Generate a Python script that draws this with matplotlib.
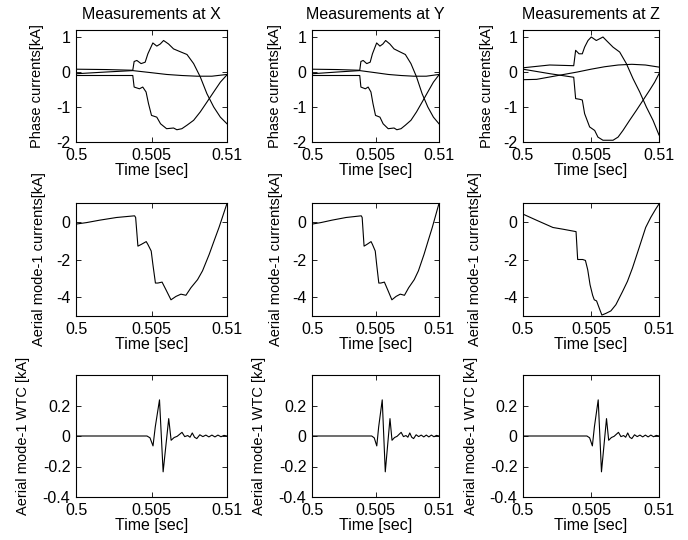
import matplotlib
matplotlib.use("Agg")
import matplotlib.pyplot as plt

plt.rcParams['font.family'] = ['Liberation Sans', 'DejaVu Sans']

# ---------------- data (time in seconds) ----------------
# Phase currents at X (kA)
tX_a = [0.5, 0.5020, 0.50376, 0.50385, 0.50403, 0.50431, 0.50458, 0.50476, 0.50509, 0.50535,
        0.50558, 0.50580, 0.50613, 0.50646, 0.50690, 0.50735, 0.50779, 0.50823, 0.50867, 0.50912,
        0.50956, 0.51]
iX_a = [0.08, 0.07, 0.05, 0.30, 0.33, 0.24, 0.28, 0.52, 0.83, 0.74,
        0.80, 0.90, 0.80, 0.66, 0.58, 0.50, 0.24, -0.14, -0.62, -1.00,
        -1.29, -1.48]
tX_b = [0.5, 0.5020, 0.50376, 0.50385, 0.50420, 0.50442, 0.50464, 0.50480, 0.50500, 0.50535,
        0.50560, 0.50600, 0.50646, 0.50668, 0.50701, 0.50735, 0.50779, 0.50823, 0.50867, 0.50912,
        0.50956, 0.51]
iX_b = [-0.10, -0.10, -0.10, -0.43, -0.48, -0.43, -0.57, -0.90, -1.24, -1.29,
        -1.48, -1.62, -1.60, -1.65, -1.62, -1.52, -1.38, -1.14, -0.86, -0.57,
        -0.29, -0.08]
tX_c = [0.5, 0.5020, 0.50376, 0.5050, 0.5060, 0.5070, 0.5080, 0.5090, 0.51]
iX_c = [-0.05, 0.0, 0.04, -0.02, -0.07, -0.10, -0.12, -0.12, -0.07]

# Phase currents at Y (kA) - same waveform shape as X
tY_a, iY_a = tX_a, iX_a
tY_b, iY_b = tX_b, iX_b
tY_c, iY_c = tX_c, iX_c

# Phase currents at Z (kA)
tZ_a = [0.5, 0.50196, 0.50373, 0.50387, 0.50412, 0.50436, 0.50453, 0.50478, 0.50502, 0.50539,
        0.50564, 0.50588, 0.50613, 0.50662, 0.50711, 0.50760, 0.50809, 0.50858, 0.50907, 0.50956,
        0.51]
iZ_a = [0.12, 0.20, 0.18, 0.62, 0.52, 0.52, 0.71, 0.90, 1.00, 0.90,
        0.95, 1.00, 0.90, 0.71, 0.57, 0.24, -0.19, -0.57, -1.00, -1.38,
        -1.80]
tZ_b = [0.5, 0.5020, 0.50373, 0.50387, 0.50417, 0.50436, 0.50453, 0.50490, 0.50527, 0.50551,
        0.50588, 0.50613, 0.50662, 0.50699, 0.50735, 0.50784, 0.50833, 0.50882, 0.50931, 0.50968,
        0.51]
iZ_b = [0.08, -0.05, -0.15, -0.76, -0.78, -0.80, -1.19, -1.57, -1.67, -1.86,
        -1.95, -1.95, -1.95, -1.86, -1.67, -1.38, -1.10, -0.81, -0.52, -0.29,
        -0.05]
tZ_c = [0.5, 0.5010, 0.5020, 0.5030, 0.5040, 0.5050, 0.5060, 0.5070, 0.5080, 0.5090, 0.51]
iZ_c = [-0.22, -0.21, -0.14, -0.07, 0.0, 0.08, 0.15, 0.20, 0.22, 0.20, 0.14]

# Aerial mode-1 currents at X (kA)
tX_m = [0.5, 0.5007, 0.50158, 0.50268, 0.50388, 0.50395, 0.5041, 0.50432, 0.50465, 0.50476,
        0.50498, 0.50509, 0.50526, 0.50542, 0.5057, 0.50596, 0.50629, 0.50662, 0.50695, 0.50728,
        0.50761, 0.50805, 0.50838, 0.50882, 0.50914, 0.50947, 0.50969, 0.51]
iX_m = [-0.12, -0.04, 0.09, 0.23, 0.32, 0.23, -1.29, -1.20, -1.05, -1.20,
        -1.55, -2.25, -3.25, -3.25, -3.20, -3.61, -4.14, -3.96, -3.84, -3.90,
        -3.50, -3.07, -2.60, -1.73, -1.02, -0.30, 0.23, 0.98]
# Aerial mode-1 currents at Y (kA) - same as X
tY_m, iY_m = tX_m, iX_m
# Aerial mode-1 currents at Z (kA)
tZ_m = [0.5, 0.50098, 0.5022, 0.50293, 0.5039, 0.50402, 0.50439, 0.50459, 0.50476, 0.50493,
        0.50512, 0.50524, 0.50541, 0.50561, 0.5058, 0.5061, 0.50646, 0.50683, 0.50732, 0.50768,
        0.50805, 0.50854, 0.50902, 0.50939, 0.50976, 0.51]
iZ_m = [0.41, 0.09, -0.30, -0.39, -0.52, -2.00, -2.00, -2.05, -2.55, -3.34,
        -3.90, -4.14, -4.20, -4.59, -4.95, -4.86, -4.73, -4.40, -3.70, -3.16,
        -2.45, -1.37, -0.30, 0.23, 0.68, 0.95]

# Aerial mode-1 WTC (kA), identical at X, Y and Z
t_w = [0.5, 0.5047, 0.50490, 0.50510, 0.50525, 0.50553, 0.50577, 0.50614, 0.50630, 0.50650,
       0.50670, 0.50702, 0.50720, 0.50740, 0.50755, 0.50770, 0.50785, 0.50800, 0.50820, 0.50840,
       0.50860, 0.50880, 0.50900, 0.50920, 0.50940, 0.50960, 0.50980, 0.51]
w_w = [0.0, 0.0, -0.012, -0.065, 0.06, 0.237, -0.235, 0.114, -0.028, -0.010,
       -0.002, 0.024, -0.004, 0.003, -0.008, 0.020, -0.008, -0.017, 0.008, -0.004,
       0.006, -0.006, 0.006, -0.006, 0.006, -0.005, 0.004, 0.0]

titles = ["Measurements at X", "Measurements at Y", "Measurements at Z"]
xticks = [0.5, 0.505, 0.51]
xticklabels = ["0.5", "0.505", "0.51"]

phase = [[(tX_a, iX_a), (tX_b, iX_b), (tX_c, iX_c)],
         [(tY_a, iY_a), (tY_b, iY_b), (tY_c, iY_c)],
         [(tZ_a, iZ_a), (tZ_b, iZ_b), (tZ_c, iZ_c)]]
mode = [(tX_m, iX_m), (tY_m, iY_m), (tZ_m, iZ_m)]

# ---------------- layout ----------------
W, H = 688, 540
fig = plt.figure(figsize=(W / 100, H / 100), dpi=100)
cols = [(76, 227), (312, 439), (523, 659)]
rows = [(30, 142), (203, 316), (375, 497)]
# y-label centre x positions (pixels) per row / column
ylab_x = [[36, 274, 486], [38, 275, 474], [22, 258, 470]]

FS_H = 11.5   # horizontal text
FS_V = 10.5   # vertical (y-label) text
lw = 0.8

def mkax(c, r):
    x0, x1 = cols[c]
    y0, y1 = rows[r]
    ax = fig.add_axes([x0 / W, (H - y1) / H, (x1 - x0) / W, (y1 - y0) / H])
    ax.set_xlim(0.5, 0.51)
    ax.set_xticks(xticks)
    ax.set_xticklabels(xticklabels)
    ax.tick_params(direction='in', top=True, right=True, length=3.5, width=0.6,
                   labelsize=FS_H)
    ax.tick_params(axis='x', pad=4)
    ax.tick_params(axis='y', pad=4)
    for s in ax.spines.values():
        s.set_linewidth(0.8)
    ax.set_xlabel("Time [sec]", fontsize=FS_H, labelpad=0)
    return ax

def place_ylabel(ax, c, r, text):
    x0, x1 = cols[c]
    ax.set_ylabel(text, fontsize=FS_V)
    # label anchor is the right edge of the rotated text; centre ~8 px to its left
    xr = ylab_x[r][c] + 8
    ax.yaxis.set_label_coords((xr - x0) / (x1 - x0), 0.5)

for c in range(3):
    ax = mkax(c, 0)
    for t, v in phase[c]:
        ax.plot(t, v, color='black', lw=lw)
    ax.set_ylim(-2, 1.2)
    ax.set_yticks([-2, -1, 0, 1])
    ax.set_yticklabels(["-2", "-1", "0", "1"])
    place_ylabel(ax, c, 0, "Phase currents[kA]")
    ax.set_title(titles[c], fontsize=FS_H, pad=8)

    ax = mkax(c, 1)
    t, v = mode[c]
    ax.plot(t, v, color='black', lw=lw)
    ax.set_ylim(-5, 1)
    ax.set_yticks([-4, -2, 0])
    ax.set_yticklabels(["-4", "-2", "0"])
    place_ylabel(ax, c, 1, "Aerial mode-1 currents[kA]")

    ax = mkax(c, 2)
    ax.plot(t_w, w_w, color='black', lw=lw)
    ax.set_ylim(-0.4, 0.4)
    ax.set_yticks([-0.4, -0.2, 0, 0.2])
    ax.set_yticklabels(["-0.4", "-0.2", "0", "0.2"])
    place_ylabel(ax, c, 2, "Aerial mode-1 WTC [kA]")

fig.savefig("out.png", dpi=100)
